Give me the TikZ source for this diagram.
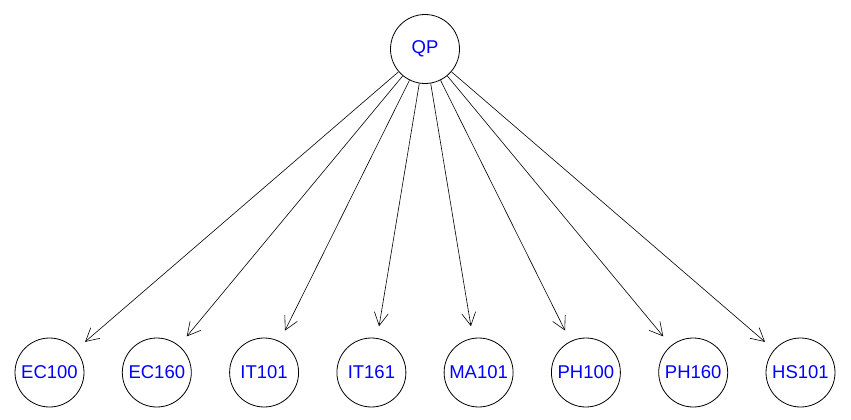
\documentclass[tikz,border=0pt]{standalone}
\usepackage{fontspec}
\setmainfont{Liberation Sans}
\usetikzlibrary{arrows.meta}
\begin{document}
\begin{tikzpicture}[x=1pt,y=-1pt,
  vert/.style={circle,draw=black,line width=0.8pt,minimum size=69pt,inner sep=0pt,
    text=blue,font=\fontsize{18.5}{20}\selectfont},
  edge/.style={draw=black,line width=0.6pt,shorten >=12pt,
    -{Straight Barb[length=13pt,width=14pt,line width=0.6pt]}}]
\useasboundingbox (0,0) rectangle (851,420);
\node[vert] (qp) at (425,49) {QP};
\node[vert] (ec100) at (49.5,372.5) {EC100};
\node[vert] (ec160) at (156.8,372.5) {EC160};
\node[vert] (it101) at (264.1,372.5) {IT101};
\node[vert] (it161) at (371.4,372.5) {IT161};
\node[vert] (ma101) at (478.6,372.5) {MA101};
\node[vert] (ph100) at (585.9,372.5) {PH100};
\node[vert] (ph160) at (693.2,372.5) {PH160};
\node[vert] (hs101) at (800.5,372.5) {HS101};
\foreach \t in {ec100,ec160,it101,it161,ma101,ph100,ph160,hs101}
  \draw[edge] (qp) -- (\t);
\end{tikzpicture}
\end{document}
